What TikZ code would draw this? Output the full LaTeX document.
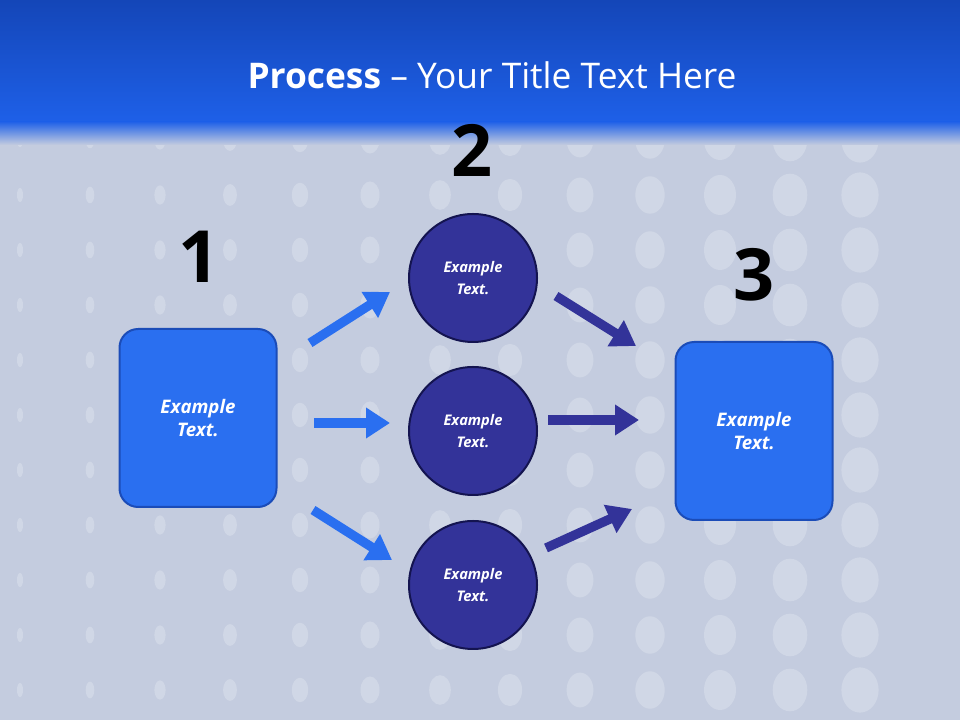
\documentclass[tikz,border=0pt]{standalone}
\usepackage{fontspec}
\setmainfont{Open Sans}
\usetikzlibrary{arrows.meta}
\definecolor{boxblue}{HTML}{2A6FF0}
\definecolor{boxedge}{HTML}{1B4CB8}
\definecolor{circ}{HTML}{333399}
\definecolor{circedge}{HTML}{141450}
\definecolor{bgc}{HTML}{C4CCDF}
\definecolor{topA}{HTML}{1446B8}
\definecolor{topB}{HTML}{1E60E8}
\tikzset{
  sq/.style={draw=boxedge,line width=1.5pt,fill=boxblue,rounded corners=14pt,minimum width=117.75pt,minimum height=133.5pt,text=white,font=\bfseries\itshape\fontsize{14}{17}\selectfont,align=center},
  cir/.style={circle,draw=circedge,line width=1.5pt,fill=circ,minimum size=96pt,text=white,font=\bfseries\itshape\fontsize{11}{16}\selectfont,align=center},
  num/.style={font=\bfseries\fontsize{54}{54}\selectfont,text=black},
  arrL/.style={line width=7pt,draw=boxblue,-{Triangle[length=18pt,width=22pt]}},
  arrD/.style={line width=7pt,draw=circ,-{Triangle[length=18pt,width=22pt]}},
  dot/.style={fill=white,opacity=0.22}
}
\begin{document}
\begin{tikzpicture}[x=0.75pt,y=0.75pt]
\useasboundingbox (0,0) rectangle (960,720);
\fill[bgc] (0,0) rectangle (960,720);
\foreach \c in {0,...,12}{\foreach \r in {0,...,11}{
  \fill[dot] ({20+\c*70},{30+\r*55}) ellipse ({3+\c*1.3} and {7+\c*1.3});}}
\shade[top color=topA,bottom color=topB] (0,720) rectangle (960,598);
\shade[top color=topB,bottom color=bgc] (0,598.5) rectangle (960,575);
\node[text=white,font=\fontsize{26.5}{30}\selectfont] (title) at (492,645) {\textbf{Process} – Your Title Text Here};
\node[sq] (b1) at (198,302) {Example\\Text.};
\node[sq] (b3) at (754,289) {Example\\Text.};
\node[cir] (c1) at (473,442) {Example\\Text.};
\node[cir] (c2) at (473,289) {Example\\Text.};
\node[cir] (c3) at (473,135) {Example\\Text.};
\node[num] (n1) at (199,463) {1};
\node[num] (n2) at (472,570) {2};
\node[num] (n3) at (754,445) {3};
\coordinate (a1s) at (310,377); \coordinate (a1e) at (390,428);
\coordinate (a2s) at (314,297); \coordinate (a2e) at (390,297);
\coordinate (a3s) at (313,210); \coordinate (a3e) at (392,160);
\coordinate (d1s) at (556,424); \coordinate (d1e) at (636,374);
\coordinate (d2s) at (548,300); \coordinate (d2e) at (639,300);
\coordinate (d3s) at (546,172); \coordinate (d3e) at (632,211);
\draw[arrL] (a1s) -- (a1e);
\draw[arrL] (a2s) -- (a2e);
\draw[arrL] (a3s) -- (a3e);
\draw[arrD] (d1s) -- (d1e);
\draw[arrD] (d2s) -- (d2e);
\draw[arrD] (d3s) -- (d3e);
\end{tikzpicture}
\end{document}
